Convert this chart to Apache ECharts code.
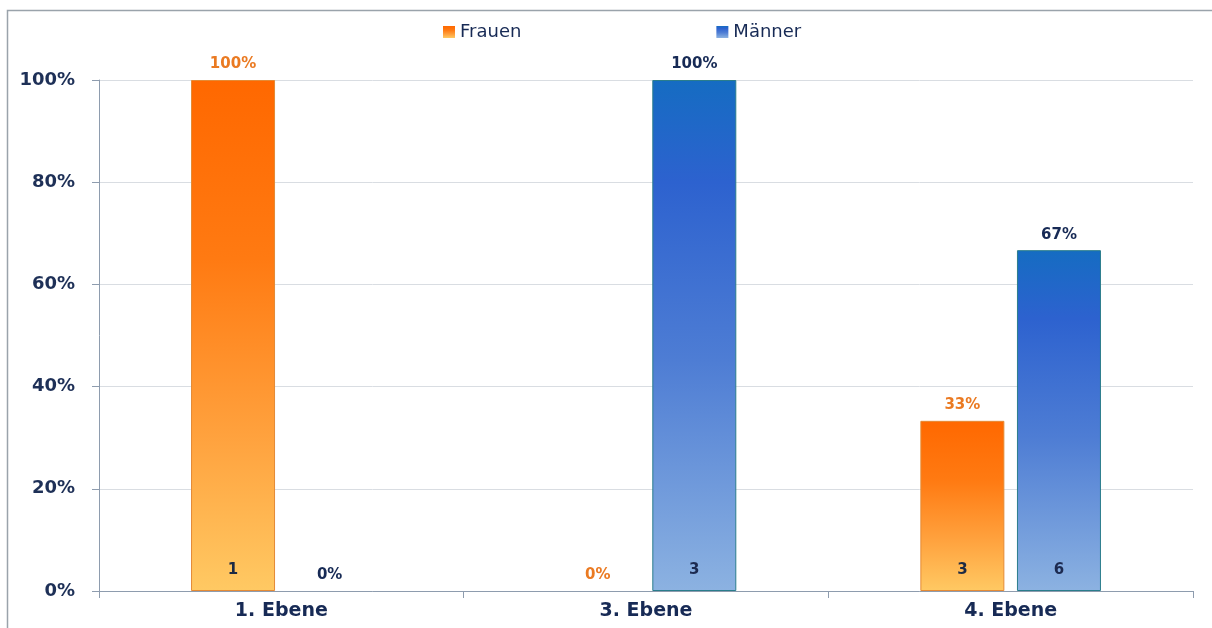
<!DOCTYPE html>
<html>
<head>
<meta charset="utf-8">
<script src="https://cdn.jsdelivr.net/npm/echarts@6/dist/echarts.min.js"></script>
<style>
  html, body { margin: 0; padding: 0; background: #ffffff; }
  #chart { width: 1212px; height: 628px; }
</style>
</head>
<body>
<div id="chart"></div>
<script>
// Kategorien (Führungsebenen)
const categories = ['1. Ebene', '3. Ebene', '4. Ebene'];
// Anteile in Prozent
const frauenPct = [100, 0, 33.3];
const maennerPct = [0, 100, 66.7];
// Anzahl Personen
const frauenCount = [1, 0, 3];
const maennerCount = [0, 3, 6];
// Achsenbeschriftung
const yTicks = [0, 20, 40, 60, 80, 100];

const FONT = '"DejaVu Sans", Verdana, sans-serif';
const NAVY = '#172a55';

const frauenFill = new echarts.graphic.LinearGradient(0, 0, 0, 1, [
  { offset: 0, color: '#ff6800' },
  { offset: 0.35, color: '#ff7a12' },
  { offset: 0.7, color: '#ffa23e' },
  { offset: 1, color: '#ffc963' }
]);
const maennerFill = new echarts.graphic.LinearGradient(0, 0, 0, 1, [
  { offset: 0, color: '#156cc2' },
  { offset: 0.2, color: '#2d62cf' },
  { offset: 0.55, color: '#4e7dd4' },
  { offset: 1, color: '#8cb2e1' }
]);

const barWidth = 84;
const barGap = '15%';

// Balken ohne Höhe bekommen keinen Rahmen, damit an der Nulllinie nichts erscheint
function withBorder(values, borderColor) {
  return values.map(v => ({
    value: v,
    itemStyle: { borderColor: borderColor, borderWidth: v > 0 ? 1 : 0 }
  }));
}

const chart = echarts.init(document.getElementById('chart'), null, { renderer: 'canvas' });

chart.setOption({
  backgroundColor: '#ffffff',
  animation: false,
  graphic: [{
    type: 'rect',
    shape: { x: 7.5, y: 10.5, width: 1240, height: 660 },
    style: { fill: 'none', stroke: '#9aa3ab', lineWidth: 1.5 },
    silent: true,
    z: -1
  }],
  legend: {
    data: ['Frauen', 'Männer'],
    left: 438,
    top: 18,
    itemWidth: 12,
    itemHeight: 12,
    itemGap: 195,
    icon: 'rect',
    textStyle: { fontFamily: FONT, fontSize: 18, color: NAVY }
  },
  grid: { left: 99, right: 19, top: 80, bottom: 37, containLabel: false },
  xAxis: [{
    type: 'category',
    data: categories,
    axisLine: { show: true, lineStyle: { color: '#8e9cae', width: 1 } },
    axisTick: { show: true, length: 7, alignWithLabel: false, lineStyle: { color: '#8e9cae' } },
    axisLabel: { fontFamily: FONT, fontSize: 19, fontWeight: 'bold', color: NAVY, margin: 11 },
    splitLine: { show: false }
  }, {
    type: 'category',
    data: categories,
    show: false
  }],
  yAxis: {
    type: 'value',
    min: yTicks[0],
    max: yTicks[yTicks.length - 1],
    interval: 20,
    axisLine: { show: true, lineStyle: { color: '#8e9cae', width: 1 } },
    axisTick: { show: true, length: 7, lineStyle: { color: '#8e9cae' } },
    axisLabel: {
      fontFamily: FONT, fontSize: 18, fontWeight: 'bold', color: '#1e3057', margin: 24,
      formatter: v => v + '%'
    },
    splitLine: { show: true, lineStyle: { color: '#d9dde2', width: 1 } }
  },
  series: [{
    name: 'Frauen',
    type: 'bar',
    xAxisIndex: 0,
    data: withBorder(frauenPct, '#e48a35'),
    barWidth: barWidth,
    barGap: barGap,
    itemStyle: { color: frauenFill },
    label: {
      show: true, position: 'top', distance: 8,
      fontFamily: FONT, fontSize: 15, fontWeight: 'bold', color: '#ea7a22',
      formatter: p => Math.round(p.value) + '%'
    }
  }, {
    name: 'Männer',
    type: 'bar',
    xAxisIndex: 0,
    data: withBorder(maennerPct, '#2a7d8c'),
    barWidth: barWidth,
    barGap: barGap,
    itemStyle: { color: maennerFill },
    label: {
      show: true, position: 'top', distance: 8,
      fontFamily: FONT, fontSize: 15, fontWeight: 'bold', color: NAVY,
      formatter: p => Math.round(p.value) + '%'
    }
  }, {
    // Anzahl Frauen, unten im Balken
    name: 'FrauenAnzahl',
    type: 'bar',
    xAxisIndex: 1,
    data: frauenPct,
    barWidth: barWidth,
    barGap: barGap,
    silent: true,
    itemStyle: { color: 'rgba(0,0,0,0)' },
    label: {
      show: true, position: 'insideBottom', distance: 13,
      fontFamily: FONT, fontSize: 15, fontWeight: 'bold', color: '#1c2a44',
      formatter: p => frauenCount[p.dataIndex] > 0 ? String(frauenCount[p.dataIndex]) : ''
    },
    z: 5
  }, {
    // Anzahl Männer, unten im Balken
    name: 'MaennerAnzahl',
    type: 'bar',
    xAxisIndex: 1,
    data: maennerPct,
    barWidth: barWidth,
    barGap: barGap,
    silent: true,
    itemStyle: { color: 'rgba(0,0,0,0)' },
    label: {
      show: true, position: 'insideBottom', distance: 13,
      fontFamily: FONT, fontSize: 15, fontWeight: 'bold', color: '#1c2a50',
      formatter: p => maennerCount[p.dataIndex] > 0 ? String(maennerCount[p.dataIndex]) : ''
    },
    z: 5
  }]
});
</script>
</body>
</html>
